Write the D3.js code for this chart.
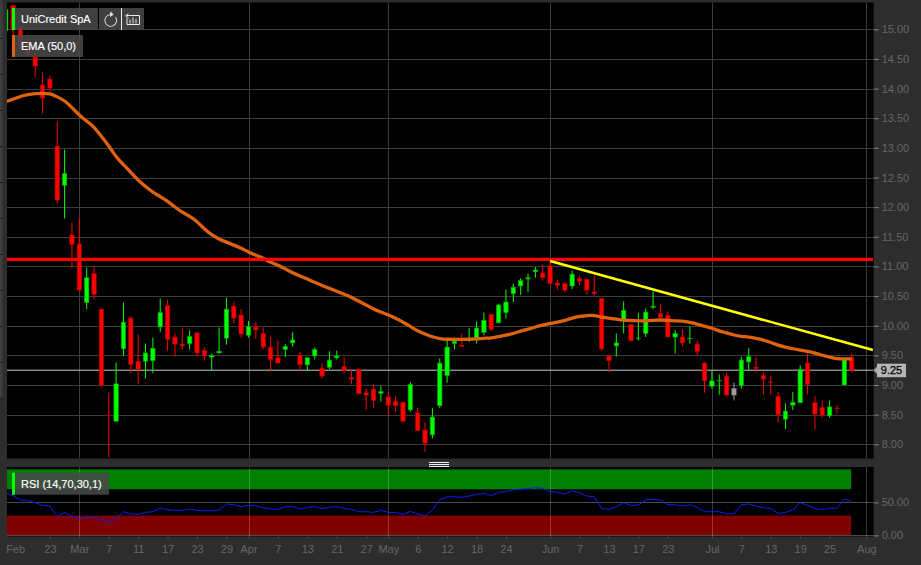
<!DOCTYPE html>
<html><head><meta charset="utf-8">
<script src="https://cdn.jsdelivr.net/npm/d3@7/dist/d3.min.js"></script>
<style>html,body{margin:0;padding:0;background:#2d2d2d;overflow:hidden}svg{display:block}
text{font-family:"Liberation Sans",Arial,sans-serif}</style></head><body>
<script>
const firstSession = -10, lastSlot = 107;
const opens = [14.98,15.40,15.02,14.78,14.53,14.06,14.16,13.03,12.37,11.53,
11.38,10.39,10.88,10.28,8.49,8.39,9.61,10.13,9.40,9.40,9.41,9.98,10.34,9.81,9.69,9.70,9.88,9.58,9.47,9.54,9.79,
10.33,10.18,9.84,9.98,9.87,9.64,9.46,9.60,9.71,9.50,9.34,9.49,9.28,9.30,9.46,9.31,9.13,9.26,8.87,8.93,8.86,8.80,8.73,8.71,8.58,8.53,8.24,8.16,8.65,9.16,
9.70,9.67,9.76,9.77,9.89,10.19,10.05,10.22,10.54,10.67,10.79,10.91,10.89,11.01,10.72,10.71,10.67,10.80,10.78,10.57,10.46,9.49,9.66,10.08,10.02,9.78,9.87,10.31,10.21,10.17,9.81,
9.81,9.78,9.69,9.37,8.98,9.07,9.15,8.94,8.99,9.39,9.30,9.16,9.05,8.81,8.42,8.66,8.70,9.37,8.70,8.62,8.48,8.61,9.00,9.47];
const highs = [15.38,15.40,15.07,14.88,14.81,14.28,14.22,13.44,12.97,11.74,
11.81,10.98,10.99,10.28,8.87,9.38,10.39,10.16,9.85,9.70,9.80,10.46,10.44,9.87,9.97,9.92,9.88,9.63,9.53,9.97,10.47,
10.39,10.28,10.08,10.06,9.97,9.81,9.75,9.69,9.89,9.56,9.46,9.63,9.37,9.57,9.58,9.47,9.26,9.28,8.94,9.01,8.98,8.89,8.81,8.71,9.05,8.62,8.37,8.61,9.45,9.77,
9.80,9.87,9.96,10.07,10.22,10.20,10.37,10.61,10.71,10.80,10.88,10.99,11.03,11.07,10.78,10.73,10.93,10.84,10.79,10.85,10.46,9.49,9.87,10.41,10.02,10.22,10.29,10.58,10.36,10.24,9.93,
9.94,9.99,9.75,9.39,9.24,9.18,9.21,9.04,9.48,9.62,9.47,9.21,9.16,8.88,8.69,8.88,9.33,9.53,8.81,8.74,8.74,8.66,9.43,9.53];
const lows = [14.95,14.90,14.65,14.53,14.19,13.58,13.93,12.06,11.81,10.98,
10.60,10.28,10.44,8.97,7.78,8.38,9.49,9.20,9.01,9.11,9.20,9.89,9.58,9.48,9.60,9.60,9.48,9.41,9.25,9.54,9.68,
10.04,9.80,9.80,9.78,9.60,9.23,9.37,9.47,9.65,9.26,9.25,9.43,9.11,9.27,9.43,9.20,9.01,8.85,8.58,8.61,8.72,8.47,8.54,8.37,8.55,8.22,7.87,8.10,8.61,9.04,
9.60,9.65,9.73,9.70,9.84,9.91,10.04,10.12,10.40,10.52,10.57,10.81,10.76,10.71,10.61,10.56,10.62,10.69,10.52,10.51,9.58,9.22,9.48,9.87,9.73,9.75,9.81,10.28,10.14,9.81,9.53,
9.66,9.70,9.49,8.87,8.94,8.84,8.83,8.74,8.94,9.25,9.21,8.84,8.84,8.37,8.26,8.58,8.70,8.84,8.25,8.45,8.45,8.52,9.00,9.21];
const closes = [15.33,15.00,14.75,14.58,14.38,13.84,14.01,12.12,12.57,11.37,
10.60,10.81,10.53,8.99,8.48,9.02,10.06,9.35,9.26,9.54,9.62,10.22,9.77,9.69,9.66,9.82,9.54,9.49,9.50,9.57,10.28,
10.13,9.86,9.99,9.93,9.64,9.43,9.37,9.65,9.76,9.34,9.46,9.60,9.15,9.42,9.49,9.25,9.10,8.85,8.83,8.74,8.89,8.66,8.65,8.39,9.01,8.23,8.02,8.46,9.37,9.64,
9.74,9.65,9.77,9.96,10.09,9.94,10.35,10.40,10.65,10.76,10.81,10.94,10.81,10.71,10.68,10.60,10.87,10.75,10.60,10.54,9.61,9.41,9.71,10.26,9.75,9.79,10.23,10.33,10.14,9.81,9.87,
9.71,9.79,9.57,9.07,9.07,9.08,8.83,8.83,9.42,9.48,9.28,9.10,9.04,8.50,8.56,8.71,9.26,9.01,8.51,8.49,8.63,8.60,9.43,9.25];
const unchangedSessions = [99];
const ema = [13.78,13.82,13.87,13.90,13.92,13.92,13.92,13.86,13.80,13.68,
13.55,13.45,13.36,13.19,13.04,12.84,12.72,12.59,12.45,12.35,12.25,12.18,12.10,12.00,11.91,11.85,11.76,11.63,11.53,11.46,11.41,
11.36,11.31,11.24,11.19,11.14,11.07,11.02,10.96,10.89,10.84,10.79,10.73,10.68,10.63,10.58,10.53,10.48,10.41,10.35,10.28,10.23,10.18,10.13,10.06,9.99,9.91,9.86,9.81,9.78,9.77,
9.77,9.77,9.77,9.78,9.79,9.79,9.82,9.84,9.87,9.91,9.94,9.98,10.01,10.04,10.06,10.09,10.13,10.16,10.17,10.18,10.14,10.13,10.11,10.09,10.09,10.08,10.08,10.09,10.10,10.09,10.08,
10.08,10.06,10.03,9.99,9.96,9.91,9.88,9.84,9.82,9.81,9.79,9.76,9.72,9.67,9.64,9.61,9.59,9.57,9.54,9.50,9.47,9.44,9.44,9.44];
const rsi = [64.6,60.1,53.5,53.0,49.5,45.5,44.4,28.8,34.8,28.8,
25.3,27.3,27.3,22.2,19.7,25.3,35.9,32.8,31.8,34.8,35.9,41.4,38.9,37.9,37.9,39.9,37.9,37.4,37.4,38.4,47.5,
46.5,43.4,45.5,44.9,41.9,39.9,39.4,43.4,43.9,39.9,41.9,43.9,40.4,42.9,43.4,40.9,39.4,35.9,35.9,34.8,37.9,34.8,34.8,31.8,36.4,32.3,29.8,38.4,54.5,58.1,
58.6,57.6,59.6,62.1,63.6,60.1,65.2,66.2,69.2,70.2,71.2,72.2,71.2,66.2,65.2,62.6,67.7,64.6,59.6,58.6,40.9,39.4,43.4,49.5,45.5,46,54,55,53,46.5,46.5,
44.4,46.5,42.4,35.9,35.9,35.9,32.8,32.8,46.5,47.5,44.4,41.9,40.9,33.3,34.8,38.4,49.5,45.5,40.9,38.9,41.4,40.9,55,52];
const dateTickSlots = [-9,-4,0,4,8,12,16,20,23,27,31,35,39,42,46,50,54,58,64,68,72,76,80,86,90,94,98,102,107];
const dateTickLabels = ["Feb","23","Mar","7","11","17","23","29","Apr","7","13","21","27","May","6","12","18","24","Jun","7","13","17","23","Jul","7","13","19","25","Aug"];
const monthStartSlots = [0,23,42,64,86,107];
const priceTicks = [8,8.5,9,9.5,10,10.5,11,11.5,12,12.5,13,13.5,14,14.5,15];
const rsiTicks = [0,50];
const rsiBands = [[70,100,"#008000"],[0,30,"#800000"]];
const lastPrice = 9.25, resistance = 11.12;
const trendSlots = [64,107.88], trendValues = [11.09,9.59];
const seriesName = "UniCredit SpA", emaName = "EMA (50,0)", rsiName = "RSI (14,70,30,1)";

const W=921,H=565;
const px0=7,px1=873.7,mainTop=2.5,mainBot=458.5,rsiTop=467,rsiBot=536.5,lastBar=105;
const svg=d3.select("body").append("svg").attr("width",W).attr("height",H);
svg.append("rect").attr("width",W).attr("height",H).attr("fill","#2d2d2d");

// left tool strip
svg.append("rect").attr("x",0).attr("y",0).attr("width",2.7).attr("height",398).attr("fill","#3d3d3d");
d3.range(38,399,36).forEach(y=>svg.append("rect").attr("x",0).attr("y",y).attr("width",2.7).attr("height",1).attr("fill","#1c1c1c"));

const x=d3.scaleLinear().domain([firstSession,lastSlot]).range([5.76,866.4]);
const y=d3.scaleLinear().domain([8,15]).range([444.3,29.3]);
const yR=d3.scaleLinear().domain([0,50]).range([535.4,502.4]);

const defs=svg.append("defs");
defs.append("clipPath").attr("id","cm").append("rect").attr("x",px0).attr("y",mainTop).attr("width",px1-px0).attr("height",mainBot-mainTop);
defs.append("clipPath").attr("id","cr").append("rect").attr("x",px0).attr("y",rsiTop).attr("width",px1-px0).attr("height",rsiBot-rsiTop);

// panels
svg.append("rect").attr("x",px0).attr("y",mainTop).attr("width",px1-px0).attr("height",mainBot-mainTop).attr("fill","#000");
svg.append("rect").attr("x",px0).attr("y",rsiTop).attr("width",px1-px0).attr("height",rsiBot-rsiTop).attr("fill","#000");

const gridC="#3c3c3c";
const main=svg.append("g").attr("clip-path","url(#cm)");
main.selectAll("line.h").data(priceTicks).join("line").attr("x1",px0).attr("x2",px1)
 .attr("y1",d=>Math.round(y(d))+.5).attr("y2",d=>Math.round(y(d))+.5).attr("stroke",gridC);
main.selectAll("line.v").data(monthStartSlots).join("line").attr("y1",mainTop).attr("y2",mainBot)
 .attr("x1",d=>Math.round(x(d))+.5).attr("x2",d=>Math.round(x(d))+.5).attr("stroke",gridC);
// last price line
main.append("line").attr("x1",px0).attr("x2",px1).attr("y1",y(lastPrice)).attr("y2",y(lastPrice)).attr("stroke","#c8c8c8").attr("stroke-width",1);

// candles
const idx=d3.range(opens.length);
const colour=i=>unchangedSessions.includes(i)?["#a0a0a0","#777"]:closes[i]>opens[i]?["#00ff00","#00a000"]:["#ff0000","#a80000"];
const c=main.append("g").selectAll("g").data(idx).join("g");
c.append("line").attr("x1",i=>x(i+firstSession)).attr("x2",i=>x(i+firstSession))
 .attr("y1",i=>y(highs[i])).attr("y2",i=>y(lows[i])).attr("stroke",i=>colour(i)[0]).attr("stroke-width",1);
c.append("rect").attr("x",i=>x(i+firstSession)-2.2).attr("width",4.4)
 .attr("y",i=>y(Math.max(opens[i],closes[i])))
 .attr("height",i=>Math.abs(y(opens[i])-y(closes[i])))
 .attr("fill",i=>colour(i)[0]).attr("stroke",i=>colour(i)[1]).attr("stroke-width",.6);

// EMA, resistance, trend
const lineMain=d3.line().x((d,i)=>x(i+firstSession)).y(d=>y(d)).curve(d3.curveBasis);
main.append("path").attr("d",lineMain(ema)).attr("fill","none").attr("stroke","#e0620d").attr("stroke-width",3.3);
main.append("line").attr("x1",px0).attr("x2",873).attr("y1",y(resistance)).attr("y2",y(resistance)).attr("stroke","#ff0000").attr("stroke-width",3.4);
main.append("line").attr("x1",x(trendSlots[0])).attr("x2",x(trendSlots[1])).attr("y1",y(trendValues[0])).attr("y2",y(trendValues[1])).attr("stroke","#ffff00").attr("stroke-width",2.6);

// RSI panel
const rp=svg.append("g").attr("clip-path","url(#cr)");
rp.selectAll("rect.b").data(rsiBands).join("rect").attr("x",px0).attr("width",x(lastBar)-0.5-px0)
 .attr("y",d=>yR(d[1])).attr("height",d=>yR(d[0])-yR(d[1])).attr("fill",d=>d[2]);
rp.selectAll("line.h").data(rsiTicks).join("line").attr("x1",px0).attr("x2",px1)
 .attr("y1",d=>Math.round(yR(d))+.5).attr("y2",d=>Math.round(yR(d))+.5).attr("stroke","#4a4a4a");
rp.selectAll("line.v").data(monthStartSlots).join("line").attr("y1",rsiTop).attr("y2",rsiBot)
 .attr("x1",d=>Math.round(x(d))+.5).attr("x2",d=>Math.round(x(d))+.5).attr("stroke","rgba(255,255,255,.22)");
rp.append("path").attr("d",d3.line().x((d,i)=>x(i+firstSession)).y(d=>yR(d))(rsi)).attr("fill","none").attr("stroke","#0a1ef0").attr("stroke-width",1);

// axes
function style(g,fs){
 g.select(".domain").remove();
 g.selectAll("text").attr("fill","#666").attr("font-size",11).attr("font-family",'"Liberation Sans",Arial,sans-serif');
}
const axR=d3.axisRight(y).tickValues(priceTicks).tickFormat(d3.format(".2f")).tickSize(5).tickPadding(3);
const gR=svg.append("g").attr("transform",`translate(${px1},0)`).call(axR);style(gR);
gR.selectAll("line").attr("stroke","#808080");
const axR2=d3.axisRight(yR).tickValues(rsiTicks).tickFormat(d3.format(".2f")).tickSize(5).tickPadding(3);
const gR2=svg.append("g").attr("transform",`translate(${px1},0)`).call(axR2);style(gR2);
gR2.selectAll("line").attr("stroke","#808080");
const axX=d3.axisBottom(x).tickValues(dateTickSlots).tickFormat(d=>dateTickLabels[dateTickSlots.indexOf(d)]).tickSize(2).tickPadding(7);
const gX=svg.append("g").attr("transform",`translate(0,${rsiBot})`).call(axX);style(gX);
gX.selectAll("line").attr("stroke","#555");
gX.selectAll(".tick").filter(d=>d===dateTickSlots[0]).select("text").attr("dx",2);
gX.selectAll(".tick").filter(d=>d===dateTickSlots[0]).select("line").remove();

// last price tag
const tagY=y(lastPrice);
svg.append("path").attr("d",d3.line()([[873.5,tagY],[877,tagY-3.5],[877,tagY+3.5]])).attr("fill","#a8a8a8");
svg.append("rect").attr("x",877).attr("y",tagY-6.5).attr("width",29).attr("height",13.5).attr("fill","#b4b4b4");
svg.append("text").attr("x",891.5).attr("y",tagY+4.2).attr("text-anchor","middle").attr("font-size",11).attr("fill","#000").attr("stroke","#000").attr("stroke-width",.25).text(d3.format(".2f")(lastPrice));

// divider grip
[462,464,466].forEach(v=>svg.append("rect").attr("x",429).attr("y",v).attr("width",20).attr("height",1).attr("fill","#f4f4f4"));

// legends
function legend(x0,y0,w,col,txt){
 svg.append("rect").attr("x",x0).attr("y",y0).attr("width",w).attr("height",22).attr("fill","rgba(72,72,72,.88)");
 svg.append("rect").attr("x",x0).attr("y",y0).attr("width",3).attr("height",22).attr("fill",col);
 svg.append("text").attr("x",x0+9).attr("y",y0+15).attr("font-size",11).attr("fill","#fff").attr("stroke","#fff").attr("stroke-width",.15).text(txt);
}
legend(12,8,86,"#00ff00",seriesName);
legend(12,35,71,"#e0620d",emaName);
legend(12,472.7,97,"#00ff00",rsiName);
svg.append("rect").attr("x",99).attr("y",8).attr("width",22).attr("height",22).attr("fill","rgba(72,72,72,.88)");
svg.append("rect").attr("x",122).attr("y",8).attr("width",22).attr("height",22).attr("fill","rgba(72,72,72,.88)");
svg.append("rect").attr("x",121).attr("y",8).attr("width",1).attr("height",22).attr("fill","#eee");
// refresh icon
const ic=svg.append("g").attr("transform","translate(110.7,20.5)");
ic.append("path").attr("d",d3.arc()({innerRadius:5.4,outerRadius:6.3,startAngle:1.0,endAngle:Math.PI*2})).attr("fill","#e8e8e8");
ic.append("path").attr("d","M-0.5,-9L3,-6L-0.5,-3.5Z").attr("fill","#e8e8e8");
// bars icon
const ib=svg.append("g").attr("transform","translate(127,13)").attr("stroke","#e8e8e8").attr("fill","none");
ib.append("path").attr("d","M0,2.5H12.5V11.5H0V5M-1.5,3L1.5,0.5M-1.5,2.5L1.5,5");
ib.append("path").attr("d","M3,10.5V6.5M6,10.5V4.5M9,10.5V6");
</script></body></html>
